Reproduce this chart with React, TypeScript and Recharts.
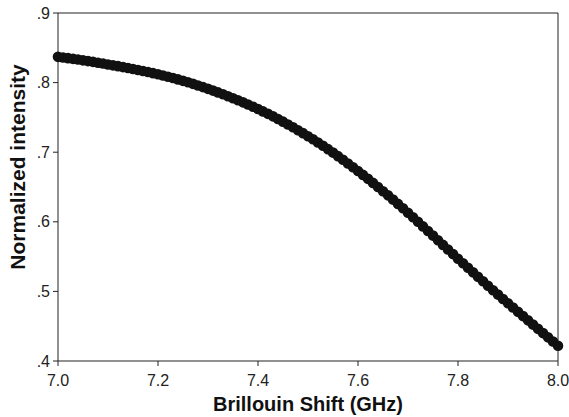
import { LineChart, Line, XAxis, YAxis, ReferenceLine } from 'recharts';

const shiftGHz = [
  7.0, 7.01, 7.02, 7.03, 7.04, 7.05, 7.06, 7.07, 7.08, 7.09,
  7.1, 7.11, 7.12, 7.13, 7.14, 7.15, 7.16, 7.17, 7.18, 7.19,
  7.2, 7.21, 7.22, 7.23, 7.24, 7.25, 7.26, 7.27, 7.28, 7.29,
  7.3, 7.31, 7.32, 7.33, 7.34, 7.35, 7.36, 7.37, 7.38, 7.39,
  7.4, 7.41, 7.42, 7.43, 7.44, 7.45, 7.46, 7.47, 7.48, 7.49,
  7.5, 7.51, 7.52, 7.53, 7.54, 7.55, 7.56, 7.57, 7.58, 7.59,
  7.6, 7.61, 7.62, 7.63, 7.64, 7.65, 7.66, 7.67, 7.68, 7.69,
  7.7, 7.71, 7.72, 7.73, 7.74, 7.75, 7.76, 7.77, 7.78, 7.79,
  7.8, 7.81, 7.82, 7.83, 7.84, 7.85, 7.86, 7.87, 7.88, 7.89,
  7.9, 7.91, 7.92, 7.93, 7.94, 7.95, 7.96, 7.97, 7.98, 7.99,
  8.0,
];

const intensity = [
  0.837, 0.8361, 0.8351, 0.8341, 0.8331, 0.832, 0.8309, 0.8298, 0.8286, 0.8274,
  0.826, 0.8248, 0.8236, 0.8223, 0.821, 0.8196, 0.8182, 0.8167, 0.8152, 0.8136,
  0.812, 0.8103, 0.8085, 0.8066, 0.8046, 0.8025, 0.8004, 0.7982, 0.7959, 0.7935,
  0.791, 0.7885, 0.7859, 0.7832, 0.7804, 0.7775, 0.7746, 0.7716, 0.7685, 0.7653,
  0.762, 0.7586, 0.7551, 0.7515, 0.7478, 0.7439, 0.7399, 0.7358, 0.7316, 0.7274,
  0.723, 0.7185, 0.7139, 0.7092, 0.7044, 0.6994, 0.6943, 0.6891, 0.6838, 0.6784,
  0.673, 0.6674, 0.6617, 0.6559, 0.65, 0.644, 0.638, 0.6319, 0.6257, 0.6194,
  0.613, 0.6065, 0.6, 0.5934, 0.5868, 0.5802, 0.5735, 0.5668, 0.5602, 0.5536,
  0.547, 0.5404, 0.5339, 0.5274, 0.5209, 0.5145, 0.5081, 0.5017, 0.4954, 0.4891,
  0.483, 0.4768, 0.4706, 0.4645, 0.4584, 0.4523, 0.4462, 0.4401, 0.434, 0.428,
  0.422,
];

const xTicks = [7.0, 7.2, 7.4, 7.6, 7.8, 8.0];
const yTicks = [0.4, 0.5, 0.6, 0.7, 0.8, 0.9];

const data = shiftGHz.map((x, i) => ({ x, y: intensity[i] }));

const font = '"Liberation Sans", Arial, sans-serif';
const axisColor = '#222';

// y title sits a bit above the plot's middle in the original
function YTitle({ viewBox }: any) {
  const cx = 17;
  const cy = viewBox.y + viewBox.height / 2 - 20;
  return (
    <text
      x={cx}
      y={cy}
      transform={`rotate(-90, ${cx}, ${cy})`}
      textAnchor="middle"
      dominantBaseline="central"
      fontSize={21}
      fontWeight="bold"
      fill="#111"
      fontFamily={font}
    >
      Normalized intensity
    </text>
  );
}

export default function App() {
  return (
    <div style={{ position: 'absolute', left: 0, top: 0, background: '#fff', fontFamily: font }}>
      <LineChart width={569} height={417} data={data} margin={{ top: 13, right: 11, bottom: 0, left: 0 }}>
        <XAxis
          dataKey="x"
          type="number"
          domain={[7, 8]}
          ticks={xTicks}
          tickFormatter={(v: number) => v.toFixed(1)}
          height={56}
          tickSize={5}
          tickMargin={9}
          stroke={axisColor}
          tick={{ fill: '#222', fontSize: 16, fontFamily: font }}
          label={{
            value: 'Brillouin Shift (GHz)',
            position: 'insideBottom',
            offset: 6,
            style: { fontSize: 20, fontWeight: 'bold', fill: '#111', fontFamily: font },
          }}
        />
        <YAxis
          dataKey="y"
          type="number"
          domain={[0.4, 0.9]}
          ticks={yTicks}
          tickFormatter={(v: number) => v.toFixed(1).replace(/^0/, '')}
          width={58}
          tickSize={5}
          tickMargin={3}
          stroke={axisColor}
          tick={{ fill: '#222', fontSize: 16, fontFamily: font }}
          label={{ content: YTitle }}
        />
        <ReferenceLine y={0.9} stroke={axisColor} />
        <ReferenceLine x={8} stroke={axisColor} />
        <Line
          type="linear"
          dataKey="y"
          stroke="#111"
          strokeWidth={2}
          dot={{ r: 5.3, fill: '#111', stroke: 'none' }}
          isAnimationActive={false}
        />
      </LineChart>
    </div>
  );
}
